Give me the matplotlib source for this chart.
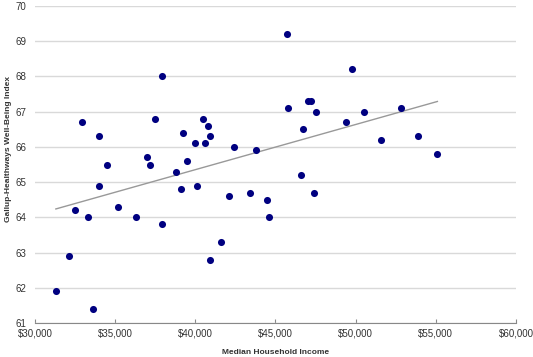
import matplotlib.pyplot as plt
import numpy as np
from matplotlib.ticker import FuncFormatter

# median household income ($) per state and well-being index
income = [31300, 32100, 32500, 32900, 33300, 33600, 34000, 34000, 34500, 35200,
          36300, 37000, 37200, 37500, 37900, 37900, 38800, 39200, 39100, 39500,
          40000, 40100, 40500, 40600, 40800, 40900, 40900, 41600, 42100, 42400,
          43400, 43800, 44500, 44600, 45700, 45800, 46600, 46700, 47000, 47200,
          47500, 47400, 49400, 49800, 50500, 51600, 52800, 53900, 55100]
wellbeing = [61.9, 62.9, 64.2, 66.7, 64.0, 61.4, 64.9, 66.3, 65.5, 64.3,
             64.0, 65.7, 65.5, 66.8, 68.0, 63.8, 65.3, 66.4, 64.8, 65.6,
             66.1, 64.9, 66.8, 66.1, 66.6, 66.3, 62.8, 63.3, 64.6, 66.0,
             64.7, 65.9, 64.5, 64.0, 69.2, 67.1, 65.2, 66.5, 67.3, 67.3,
             67.0, 64.7, 66.7, 68.2, 67.0, 66.2, 67.1, 66.3, 65.8]

plt.rcParams['font.family'] = ['Liberation Sans', 'DejaVu Sans']

fig = plt.figure(figsize=(5.33, 3.57), dpi=100)
ax = fig.add_axes([0.0657, 0.0952, 0.9023, 0.888])

x = np.array(income)
y = np.array(wellbeing)
slope, icpt = np.polyfit(x, y, 1)
xs = np.array([x.min(), x.max()])
ax.plot(xs, slope * xs + icpt, color='#999999', lw=1, zorder=2)
ax.scatter(x, y, s=26, color='#000080', zorder=3, linewidths=0)

ax.set_xlim(30000, 60000)
ax.set_ylim(61, 70)
ax.set_xticks(np.arange(30000, 60001, 5000))
ax.set_yticks(np.arange(61, 71, 1))
ax.xaxis.set_major_formatter(FuncFormatter(lambda v, p: '${:,.0f}'.format(v)))

ax.grid(axis='y', color='#d9d9d9', lw=1)
ax.set_axisbelow(True)
for s in ['top', 'right', 'left']:
    ax.spines[s].set_visible(False)
ax.spines['bottom'].set_color('#888888')
ax.tick_params(axis='x', direction='in', length=3, color='#888888', labelsize=7,
               labelcolor='#333333', pad=4)
ax.tick_params(axis='y', length=0, labelsize=7, labelcolor='#333333', pad=6)

ax.set_xlabel('Median Household Income', fontsize=6, fontweight='bold',
              color='#333333', labelpad=7.5)
ax.set_ylabel('Gallup-Healthways Well-Being Index', fontsize=6, fontweight='bold',
              color='#333333')
ax.yaxis.set_label_coords(-0.048, 0.55)

fig.savefig('out.png', dpi=100)
